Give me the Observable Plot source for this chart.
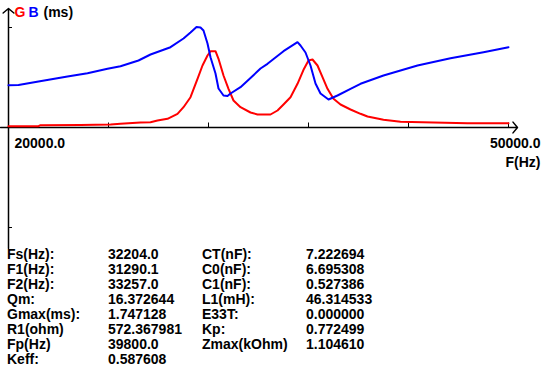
<!DOCTYPE html>
<html>
<head>
<meta charset="utf-8">
<script src="https://cdn.jsdelivr.net/npm/d3@7"></script>
<script src="https://cdn.jsdelivr.net/npm/@observablehq/plot@0.6"></script>
<style>
  html, body { margin: 0; padding: 0; background: #fff; }
  body { width: 544px; height: 370px; position: relative; overflow: hidden; font-family: "Liberation Sans", Arial, sans-serif; }
  #chart { position: absolute; left: 0; top: 0; }
  .col { position: absolute; top: 246.6px; font-size: 14px; font-weight: bold; line-height: 15px; color: #000; white-space: pre; }
</style>
</head>
<body>
<div id="chart"></div>
<div class="col" id="c1" style="left:7px"></div>
<div class="col" id="c2" style="left:108px"></div>
<div class="col" id="c3" style="left:202px"></div>
<div class="col" id="c4" style="left:306px"></div>
<script>
// ---- data ----
const freqB = [20000,20600,21800,23540,24740,25940,26720,27800,28520,29720,30500,30920,31280,31520,31700,31940,32120,32420,32600,32900,33140,33320,33920,34520,35120,35540,36500,37340,37520,37820,38120,38420,38720,39200,39740,40520,41120,42500,44540,46520,48500,50000];
const valB  = [0.423,0.425,0.46,0.51,0.543,0.587,0.613,0.67,0.73,0.803,0.89,0.95,1.005,1.0,0.97,0.84,0.703,0.54,0.39,0.32,0.315,0.34,0.403,0.495,0.59,0.637,0.763,0.853,0.82,0.75,0.62,0.44,0.34,0.28,0.32,0.387,0.437,0.52,0.62,0.693,0.753,0.803];
const freqG = [20000,21800,21920,24320,26120,26720,27920,28520,28940,29540,30140,30500,30920,31340,31640,31940,32120,32420,32600,32900,33200,33500,33920,34520,34940,35720,36140,36500,36920,37340,37700,38000,38240,38540,38840,39140,39500,39920,40520,41120,41540,42500,43520,45500,47540,50000];
const valG  = [0.013,0.013,0.023,0.025,0.03,0.037,0.05,0.053,0.07,0.087,0.137,0.203,0.303,0.487,0.62,0.72,0.763,0.763,0.687,0.52,0.387,0.27,0.203,0.15,0.13,0.13,0.17,0.23,0.303,0.437,0.577,0.67,0.68,0.62,0.503,0.387,0.287,0.23,0.18,0.137,0.11,0.077,0.057,0.05,0.043,0.043];
const xDomain = [20000, 50000];
const yDomain = [-1, 1];
const xTicks = [26000, 32000, 38000, 44000, 50000];
const yTicks = [1, -1];
const xTickLabels = ["20000.0", "50000.0"];
const xTitle = "F(Hz)";
const legendNames = ["G", "B", "(ms)"];
const legendColors = ["#ff0000", "#0000ff", "#000000"];
const tblLabels1 = ["Fs(Hz):","F1(Hz):","F2(Hz):","Qm:","Gmax(ms):","R1(ohm)","Fp(Hz)","Keff:"];
const tblValues1 = ["32204.0","31290.1","33257.0","16.372644","1.747128","572.367981","39800.0","0.587608"];
const tblLabels2 = ["CT(nF):","C0(nF):","C1(nF):","L1(mH):","E33T:","Kp:","Zmax(kOhm)"];
const tblValues2 = ["7.222694","6.695308","0.527386","46.314533","0.000000","0.772499","1.104610"];
// axis extents (beyond the data domain), in data units
const xAxisExtent = [19520, 50540];
const yAxisExtent = [-1.21, 1.19];
const legendOffsets = [6, 20, 35];

const dataG = freqG.map((f, i) => ({f, v: valG[i]}));
const dataB = freqB.map((f, i) => ({f, v: valB[i]}));
const font = {fontSize: 14, fontWeight: "bold", fontFamily: "Liberation Sans, Arial, sans-serif"};

const chart = Plot.plot({
  width: 544,
  height: 250,
  marginLeft: 8,
  marginRight: 36,
  marginTop: 27,
  marginBottom: 23,
  style: {background: "#fff", fontFamily: "Liberation Sans, Arial, sans-serif", overflow: "visible"},
  x: {domain: xDomain, axis: null},
  y: {domain: yDomain, axis: null},
  marks: [
    // axes with open arrow heads
    Plot.arrow([0], {x1: xAxisExtent[0], x2: xAxisExtent[1], y1: 0, y2: 0, stroke: "#000", strokeWidth: 1.5, headAngle: 100, headLength: 7}),
    Plot.arrow([0], {x1: xDomain[0], x2: xDomain[0], y1: yAxisExtent[0], y2: yAxisExtent[1], stroke: "#000", strokeWidth: 1.5, headAngle: 100, headLength: 7}),
    Plot.ruleX(xTicks, {x: d => d, y1: 0, y2: 0.045, stroke: "#000", strokeWidth: 1}),
    Plot.ruleY(yTicks, {y: d => d, x1: xDomain[0], x2: xDomain[0] + 240, stroke: "#000", strokeWidth: 1}),
    Plot.text([xTickLabels[0]], {x: xDomain[0], y: 0, dx: 6, dy: 16, textAnchor: "start", fill: "#000", ...font}),
    Plot.text([xTickLabels[1]], {x: xDomain[1], y: 0, dx: 32, dy: 16, textAnchor: "end", fill: "#000", ...font}),
    Plot.text([xTitle], {x: xDomain[1], y: 0, dx: 32, dy: 35, textAnchor: "end", fill: "#000", ...font}),
    ...legendNames.map((name, i) =>
      Plot.text([name], {x: xDomain[0], y: yDomain[1], dx: legendOffsets[i], dy: -15, textAnchor: "start", fill: legendColors[i], ...font})
    ),
    // curves
    Plot.line(dataG, {x: "f", y: "v", stroke: "#ff0000", strokeWidth: 2}),
    Plot.line(dataB, {x: "f", y: "v", stroke: "#0000ff", strokeWidth: 2})
  ]
});
document.getElementById("chart").appendChild(chart);

document.getElementById("c1").textContent = tblLabels1.join("\n");
document.getElementById("c2").textContent = tblValues1.join("\n");
document.getElementById("c3").textContent = tblLabels2.join("\n");
document.getElementById("c4").textContent = tblValues2.join("\n");
</script>
</body>
</html>
